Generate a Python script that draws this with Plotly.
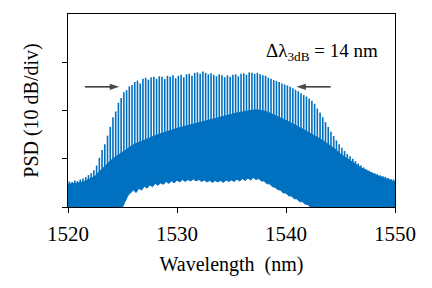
import numpy as np
import plotly.graph_objects as go

# ---------------- data ----------------
# comb lines: first line wavelength and line spacing (nm)
comb_start = 1520.125
comb_spacing = 0.25
# peak level of each comb line (dB above bottom of plot)
comb_peaks = [
    5.3, 5.2, 5.5, 5.4, 5.7, 5.9, 6.2, 6.6, 7.0, 7.6,
    8.6, 10.2, 11.8, 13.0, 14.8, 16.6, 18.6, 19.8, 21.6, 22.6,
    23.8, 24.2, 25.0, 25.3, 25.9, 26.2, 25.6, 26.6, 26.8, 26.4,
    26.9, 27.0, 26.6, 27.1, 27.0, 26.5, 27.2, 27.0, 27.3, 26.7,
    27.2, 27.4, 26.9, 27.5, 27.6, 27.2, 27.8, 27.9, 27.6, 28.1,
    27.8, 27.5, 27.7, 27.4, 27.1, 27.5, 27.3, 26.9, 27.3, 27.0,
    27.4, 27.5, 27.1, 27.6, 27.7, 27.4, 27.9, 27.8, 27.6, 27.8,
    27.5, 27.3, 27.2, 26.8, 26.6, 26.3, 26.1, 25.9, 25.6, 25.4,
    25.2, 24.9, 24.6, 24.3, 24.0, 23.6, 23.2, 22.9, 22.5, 22.0,
    21.4, 20.4, 19.6, 18.6, 17.6, 16.6, 15.6, 14.7, 13.8, 13.0,
    12.3, 11.6, 11.0, 10.5, 10.0, 9.5, 9.0, 8.6, 8.2, 7.8,
    7.5, 7.2, 7.0, 6.8, 6.6, 6.4, 6.2, 6.0, 5.8, 5.7,
]

# top of the dense (solid) part of the spectrum, every 0.5 nm
upper_wl = [1520 + 0.5 * i for i in range(61)]
upper_lvl = [
    4.7, 4.8, 5.0, 5.3, 5.8, 6.4, 7.6, 8.8, 9.8, 10.6,
    11.4, 12.2, 12.9, 13.4, 13.8, 14.3, 14.8, 15.2, 15.6, 16.0,
    16.3, 16.6, 16.9, 17.1, 17.4, 17.7, 18.0, 18.3, 18.6, 18.9,
    19.2, 19.5, 19.7, 19.9, 20.1, 20.1, 19.9, 19.5, 19.0, 18.5,
    17.9, 17.4, 16.8, 16.2, 15.6, 15.0, 14.3, 13.6, 12.8, 12.0,
    11.0, 10.2, 9.4, 8.7, 8.0, 7.4, 6.9, 6.4, 6.0, 5.6, 5.2,
]

# bottom of the dense part (white hole in the middle), every 0.25 nm
lower_wl = [1525 + 0.25 * i for i in range(70)]
lower_lvl = [
    0.0, 1.2, 2.4, 2.9, 3.5, 3.0, 3.9, 3.5, 4.3, 3.9,
    4.6, 4.2, 4.9, 4.5, 5.0, 4.7, 5.3, 4.9, 5.4, 5.0,
    5.6, 5.2, 5.7, 5.3, 5.7, 5.4, 5.8, 5.4, 5.7, 5.3,
    5.6, 5.2, 5.5, 5.1, 5.5, 5.2, 5.5, 5.1, 5.6, 5.3,
    5.6, 5.3, 5.8, 5.4, 5.9, 5.5, 6.0, 5.6, 6.1, 5.7,
    5.9, 5.4, 5.4, 4.8, 4.8, 4.2, 4.1, 3.6, 3.5, 2.9,
    2.9, 2.3, 2.3, 1.7, 1.7, 1.1, 1.1, 0.6, 0.5, 0.0,
]

x_ticks = [1520, 1530, 1540, 1550]
y_ticks = [0, 10, 20, 30]

# 3-dB bandwidth arrows: (tail, head) wavelengths and level
arrow_left = (1521.55, 1524.7)
arrow_right = (1544.1, 1540.95)
arrow_level = 24.9

BLUE = "#0070C0"
FONT = "Liberation Serif"

# ---------------- build traces ----------------
comb_wl = [comb_start + comb_spacing * k for k in range(len(comb_peaks))]
base = np.interp(comb_wl, upper_wl, upper_lvl) - 1.0

sx, sy = [], []
for w, b, p in zip(comb_wl, base, comb_peaks):
    sx += [w, w, None]
    sy += [b, p, None]

# polygon for the dense region
px = list(upper_wl) + [1550, lower_wl[-1]] + lower_wl[::-1] + [1520]
py = list(upper_lvl) + [0, 0] + lower_lvl[::-1] + [0]

fig = go.Figure()
fig.add_trace(go.Scatter(x=px, y=py, mode="lines", fill="toself",
                         fillcolor=BLUE, line=dict(color=BLUE, width=1),
                         hoverinfo="skip", showlegend=False))
fig.add_trace(go.Scatter(x=sx, y=sy, mode="lines",
                         line=dict(color=BLUE, width=1.6),
                         hoverinfo="skip", showlegend=False))

# arrows as line + arrow-shaped end marker
for tail, head in (arrow_left, arrow_right):
    fig.add_trace(go.Scatter(
        x=[tail, head], y=[arrow_level, arrow_level], mode="lines+markers",
        line=dict(color="black", width=1.2),
        marker=dict(symbol=["circle", "arrow"], size=[0, 10],
                    angleref="previous", color="black",
                    line=dict(width=0)),
        hoverinfo="skip", showlegend=False))

# page body has an 8 px default margin, so the figure is offset by (8, 8)
fig.update_layout(
    width=424, height=280,
    margin=dict(l=60, r=37, t=6, b=81),
    paper_bgcolor="white", plot_bgcolor="white",
    font=dict(family=FONT, size=20, color="black"),
    showlegend=False,
)
fig.update_xaxes(
    range=[1520, 1550], tickvals=x_ticks, ticks="outside", ticklen=5,
    tickwidth=1, tickcolor="black", showline=True, linecolor="black",
    linewidth=1, mirror=True, showgrid=False, zeroline=False,
    automargin=False, ticklabelstandoff=3,
    tickfont=dict(family=FONT, size=21),
    title=dict(text="Wavelength  (nm)", font=dict(family=FONT, size=20),
               standoff=11),
)
fig.update_yaxes(
    range=[0, 40], tickvals=y_ticks, ticks="outside", ticklen=5,
    tickwidth=1, tickcolor="black", showline=True, linecolor="black",
    linewidth=1, mirror=True, showgrid=False, zeroline=False,
    showticklabels=False, automargin=False,
    title=dict(text="PSD (10 dB/div)", font=dict(family=FONT, size=20),
               standoff=18),
)

fig.add_annotation(x=0.776, y=0.805, xref="paper", yref="paper",
                   xanchor="center", yanchor="middle", showarrow=False,
                   text="Δλ<sub>3dB</sub> = 14 nm",
                   font=dict(family=FONT, size=19, color="black"))

fig.write_html("out.html")
